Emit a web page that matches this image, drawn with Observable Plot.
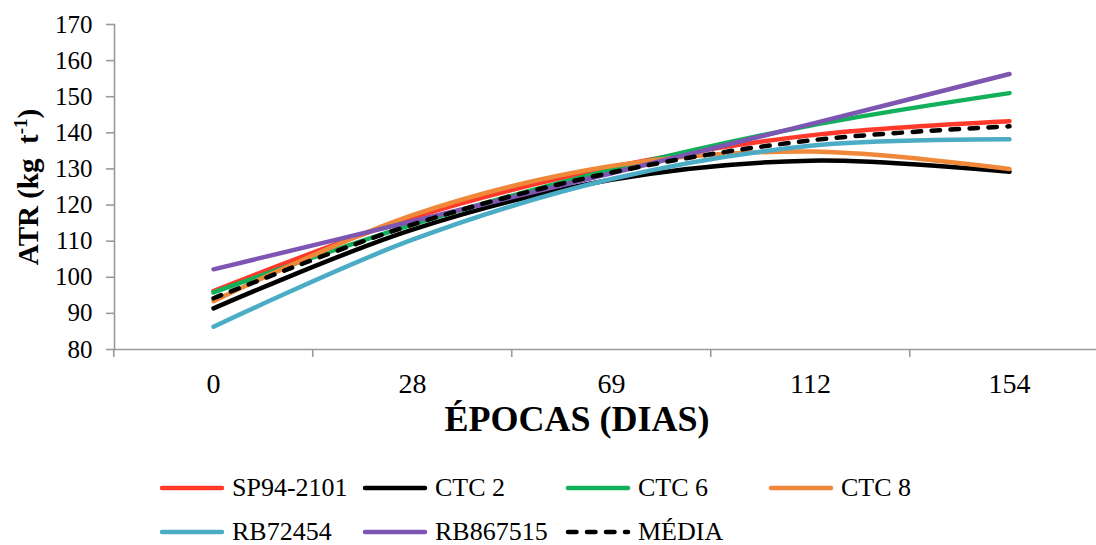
<!DOCTYPE html>
<html>
<head>
<meta charset="utf-8">
<script src="https://cdn.jsdelivr.net/npm/d3@7"></script>
<script src="https://cdn.jsdelivr.net/npm/@observablehq/plot@0.6"></script>
<style>
  body { margin: 0; background: #ffffff; }
  #chart { width: 1096px; font-family: "Liberation Serif", "Times New Roman", serif; color: #000; }
  .legend { display: grid; grid-template-columns: repeat(4, 203px); margin-left: 159px; padding-top: 11px; }
  .item { display: flex; align-items: center; height: 44px; font-size: 26px; line-height: 30px; white-space: nowrap; }
  .item svg { margin-right: 7px; flex: none; }
</style>
</head>
<body>
<div id="chart"></div>
<script>
// Sampling dates (days) and ATR values (kg t-1) per cultivar
const epocas = ["0", "28", "69", "112", "154"];
const yTicks = [80, 90, 100, 110, 120, 130, 140, 150, 160, 170];

const sp942101 = [96.2, 116.5, 130.5, 139.3, 143.2];
const ctc2     = [91.4, 113.2, 127.0, 132.3, 129.2];
const ctc6     = [95.8, 114.6, 129.8, 142.0, 151.0];
const ctc8     = [93.4, 117.2, 130.8, 134.8, 130.0];
const rb72454  = [86.3, 110.4, 127.2, 136.4, 138.2];
const rb867515 = [102.2, 115.5, 128.8, 142.4, 156.3];
const media    = [94.2, 114.6, 129.0, 137.9, 141.8];

const nomes = ["SP94-2101", "CTC 2", "CTC 6", "CTC 8", "RB72454", "RB867515", "MÉDIA"];
const series = [sp942101, ctc2, ctc6, ctc8, rb72454, rb867515, media];
const cores = ["#FF3A2A", "#000000", "#12B05A", "#F0883A", "#4BACC6", "#7D55B3", "#000000"];
const tracos = [null, null, null, null, null, null, "8.5,10.5"];

const rows = nomes.flatMap((nome, i) =>
  epocas.map((e, j) => ({serie: nome, epoca: e, atr: series[i][j]}))
);

const axisGray = "#9a9a9a";
const xFirst = 212, xLast = 1010;
const step = (xLast - xFirst) / (epocas.length - 1);

const plot = Plot.plot({
  width: 1096,
  height: 455,
  marginLeft: 114,
  marginRight: 0,
  marginTop: 24,
  marginBottom: 106,
  style: {fontFamily: '"Liberation Serif", "Times New Roman", serif', fontSize: "25px", color: "#000", background: "#fff"},
  x: {type: "point", domain: epocas, range: [xFirst, xLast], padding: 0},
  y: {domain: [80, 170]},
  marks: [
    // category separators below the horizontal axis
    Plot.axisX({tickSize: 8, fill: "none", stroke: axisGray, strokeWidth: 1.6, dx: -step / 2, label: null}),
    // category labels
    Plot.axisX({tickSize: 0, tickPadding: 24, fontSize: 28, label: null}),
    Plot.axisY({ticks: yTicks, tickSize: 8, tickPadding: 14, stroke: axisGray, strokeWidth: 1.6, fontSize: 25, label: null}),
    Plot.frame({anchor: "left", stroke: axisGray, strokeWidth: 1.6}),
    Plot.frame({anchor: "bottom", stroke: axisGray, strokeWidth: 1.6}),
    ...nomes.map((nome, i) =>
      Plot.line(rows.filter(r => r.serie === nome), {
        x: "epoca",
        y: "atr",
        stroke: cores[i],
        strokeWidth: 4.5,
        strokeDasharray: tracos[i],
        strokeLinecap: "round",
        strokeLinejoin: "round",
        curve: "catmull-rom"
      })
    )
  ]
});

const svg = d3.select(plot);

// axis titles
svg.append("text")
  .attr("x", 577)
  .attr("y", 431)
  .attr("text-anchor", "middle")
  .attr("font-weight", "bold")
  .attr("font-size", 36)
  .attr("fill", "#000")
  .text("ÉPOCAS (DIAS)");

const yTitle = svg.append("text")
  .attr("transform", "translate(38,187) rotate(-90)")
  .attr("text-anchor", "middle")
  .attr("font-weight", "bold")
  .attr("font-size", 29)
  .attr("fill", "#000")
  .style("white-space", "pre");
yTitle.append("tspan").text("ATR (kg  t");
yTitle.append("tspan").attr("font-size", 19).attr("dy", -11).text("-1");
yTitle.append("tspan").attr("dy", 11).text(")");

const chart = document.getElementById("chart");
chart.appendChild(plot);

// legend
const legend = document.createElement("div");
legend.className = "legend";
nomes.forEach((nome, i) => {
  const item = document.createElement("div");
  item.className = "item";
  const dash = tracos[i] ? `stroke-dasharray="${tracos[i]}"` : "";
  item.innerHTML = `<svg width="66" height="10"><line x1="3" y1="5" x2="63" y2="5" stroke="${cores[i]}" stroke-width="4.5" stroke-linecap="round" ${dash}/></svg><span>${nome}</span>`;
  legend.appendChild(item);
});
chart.appendChild(legend);
</script>
</body>
</html>
